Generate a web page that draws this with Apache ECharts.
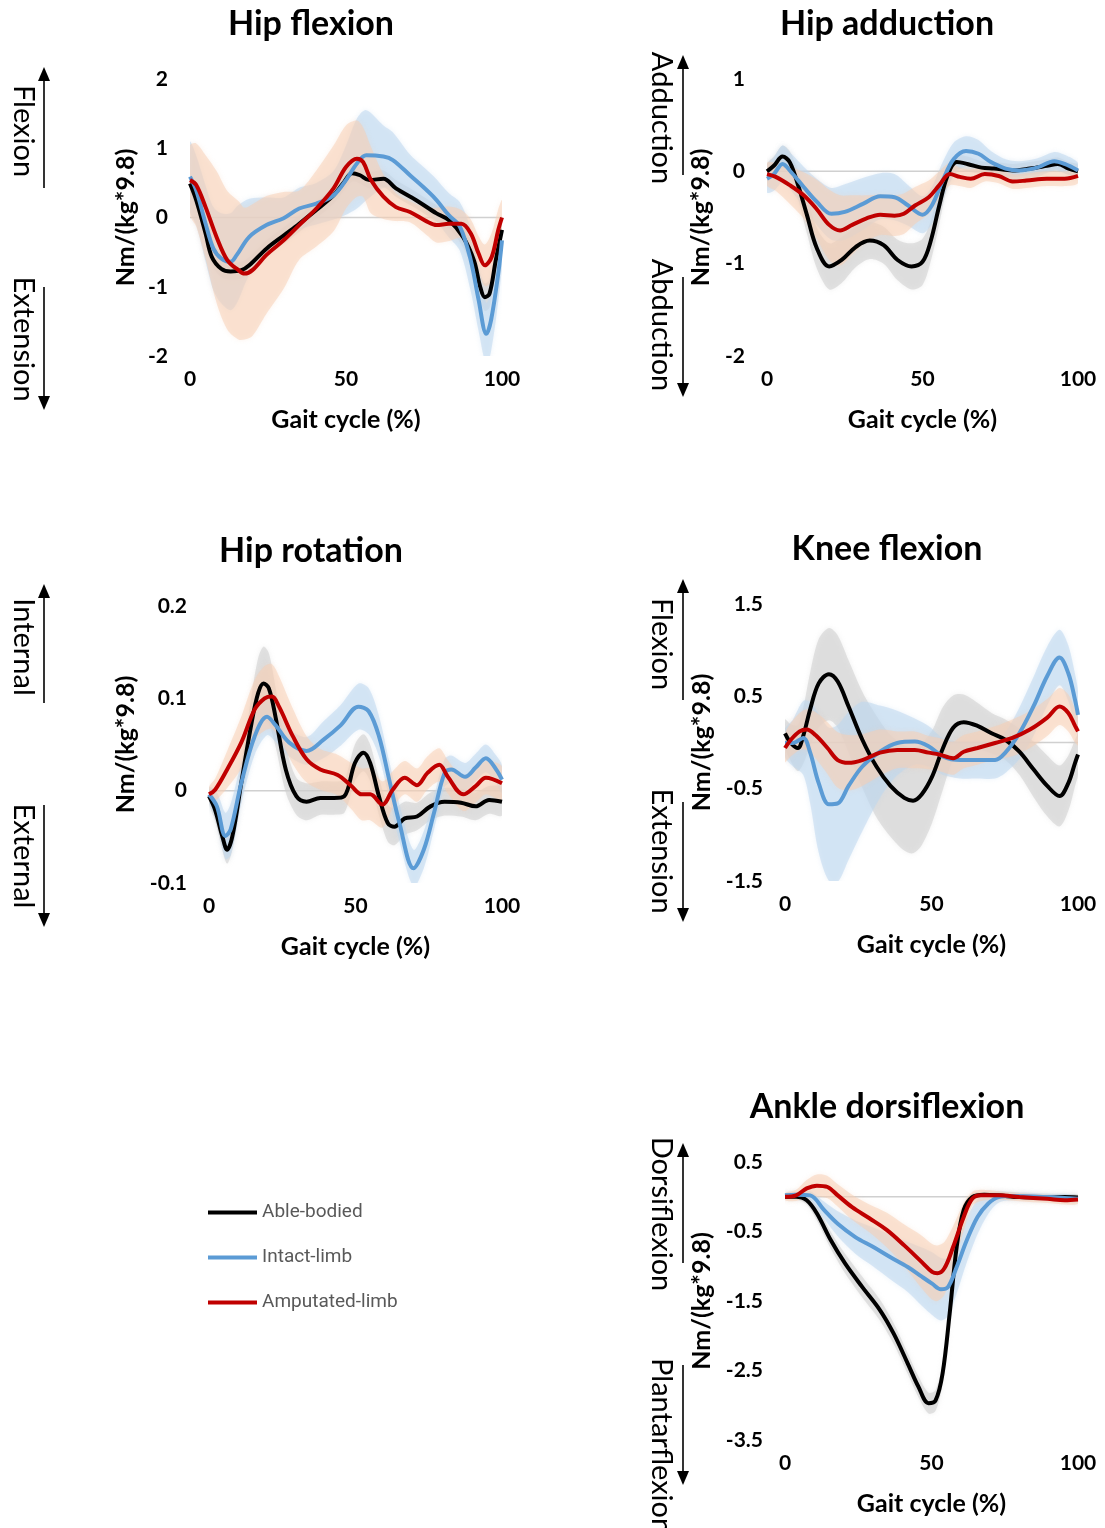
<!DOCTYPE html>
<html><head><meta charset="utf-8">
<script src="https://cdn.jsdelivr.net/npm/echarts@6/dist/echarts.min.js"></script>
<style>html,body{margin:0;padding:0;background:#fff}#c{width:1105px;height:1528px}</style>
</head><body><div id="c"></div>
<script>
// ===== Labels =====
const groupNames = ['Able-bodied', 'Intact-limb', 'Amputated-limb'];
const panelTitles = ['Hip flexion', 'Hip adduction', 'Hip rotation', 'Knee flexion', 'Ankle dorsiflexion'];
const xTicks = [0, 50, 100];
const zeroLineX = [0, 100];
const zeroLineY = [0, 0];

// ===== Hip flexion =====
const hipFlexAbleX = [0,2,5,7,10,13,16.5,19,24.5,30,35,40.5,46,49,52,54.5,57.5,62,66,72.5,79,83,87.5,91,93,94.5,96,98,100];
const hipFlexAbleMean = [0.49,0.25,-0.23,-0.57,-0.74,-0.78,-0.76,-0.69,-0.45,-0.26,-0.09,0.11,0.32,0.49,0.64,0.61,0.54,0.56,0.42,0.25,0.06,-0.04,-0.28,-0.62,-1.0,-1.15,-1.1,-0.62,-0.18];
const hipFlexAbleSD = [0.12,0.12,0.12,0.12,0.12,0.12,0.12,0.12,0.12,0.12,0.12,0.12,0.12,0.12,0.12,0.12,0.12,0.12,0.12,0.12,0.12,0.12,0.15,0.18,0.2,0.2,0.2,0.18,0.15];
const hipFlexIntactX = [0,2,5,7.5,10,13,15,19,24.5,30,35,40.5,46,50,53.5,56.5,62,65,70.5,78,83,86.5,90,92.5,95,96.5,98.8,100];
const hipFlexIntactMean = [0.59,0.39,-0.09,-0.45,-0.59,-0.64,-0.54,-0.28,-0.11,-0.01,0.13,0.20,0.32,0.54,0.78,0.90,0.88,0.83,0.61,0.30,0.03,-0.13,-0.62,-1.19,-1.68,-1.48,-0.81,-0.33];
const hipFlexIntactSD = [0.5,0.5,0.55,0.6,0.65,0.7,0.7,0.55,0.4,0.3,0.3,0.3,0.35,0.5,0.65,0.65,0.45,0.4,0.3,0.3,0.32,0.35,0.45,0.45,0.45,0.45,0.4,0.35];
const hipFlexAmpX = [0,2,5,8.5,12,15.5,17.5,20,24.5,30,35,40.5,46,50,53.5,55.5,58,62,66,70.5,76,79,83,87,90,92.5,94.5,96.7,98.8,100];
const hipFlexAmpMean = [0.54,0.47,0.15,-0.28,-0.62,-0.76,-0.81,-0.76,-0.54,-0.33,-0.11,0.13,0.42,0.73,0.85,0.80,0.54,0.30,0.15,0.08,-0.06,-0.11,-0.09,-0.09,-0.23,-0.52,-0.69,-0.57,-0.18,0.0];
const hipFlexAmpSD = [0.5,0.6,0.75,0.95,1.0,1.0,0.95,0.95,0.85,0.7,0.5,0.55,0.62,0.6,0.55,0.5,0.48,0.32,0.2,0.15,0.2,0.25,0.25,0.2,0.2,0.25,0.3,0.35,0.3,0.25];

// ===== Hip adduction =====
const hipAddAbleX = [0,2.2,5,7.3,10,12.9,16,20,24,28.5,33,37.5,42,46.5,50,52.6,55.4,58,61,64.4,69,73,79,84.5,90,93.5,97,100];
const hipAddAbleMean = [0.0,0.06,0.16,0.10,-0.15,-0.48,-0.83,-1.03,-0.96,-0.82,-0.75,-0.80,-0.96,-1.03,-0.98,-0.76,-0.37,-0.05,0.10,0.08,0.04,0.03,0.01,0.03,0.06,0.08,0.03,0.0];
const hipAddAbleSD = [0.08,0.1,0.12,0.12,0.15,0.2,0.22,0.25,0.25,0.22,0.2,0.2,0.22,0.25,0.25,0.22,0.2,0.12,0.08,0.08,0.07,0.07,0.07,0.07,0.07,0.07,0.07,0.07];
const hipAddIntactX = [0,2.2,5,7.8,11.8,16,20.7,25,31,36.4,41,45.4,50,53,56.5,60,64,68,72,76.7,81,86.8,92.4,95.7,100];
const hipAddIntactMean = [-0.08,-0.03,0.08,-0.01,-0.17,-0.33,-0.46,-0.44,-0.35,-0.27,-0.28,-0.37,-0.47,-0.37,-0.10,0.13,0.22,0.19,0.10,0.03,0.01,0.04,0.11,0.08,0.01];
const hipAddIntactSD = [0.15,0.18,0.2,0.2,0.22,0.25,0.28,0.3,0.28,0.25,0.25,0.22,0.2,0.2,0.2,0.18,0.16,0.15,0.12,0.1,0.1,0.1,0.1,0.1,0.08];
const hipAddAmpX = [0,2.8,7.3,11.8,16,20,23.5,27.4,32,36.4,41,44,47.6,52,55.4,58.8,62,65.5,70,74.5,79,83.4,90,95.7,100];
const hipAddAmpMean = [-0.03,-0.06,-0.15,-0.26,-0.41,-0.58,-0.64,-0.58,-0.51,-0.47,-0.48,-0.46,-0.37,-0.28,-0.15,-0.03,-0.06,-0.08,-0.03,-0.05,-0.11,-0.10,-0.08,-0.08,-0.05];
const hipAddAmpSD = [0.12,0.15,0.2,0.25,0.32,0.38,0.38,0.32,0.25,0.22,0.22,0.22,0.2,0.18,0.15,0.12,0.1,0.1,0.08,0.08,0.08,0.08,0.08,0.08,0.08];

// ===== Hip rotation =====
const hipRotAbleX = [0,2.1,4.5,6.2,8,11,14.5,16.8,18.6,20.4,22.7,26.2,29.8,33.3,38,42.7,46.2,49.8,52.7,55,58,61,63.3,66.8,71,75.6,80.4,86,91,95.6,100];
const hipRotAbleMean = [-0.006,-0.021,-0.049,-0.064,-0.049,0.008,0.073,0.106,0.116,0.111,0.080,0.023,-0.006,-0.012,-0.008,-0.008,-0.006,0.030,0.041,0.030,-0.006,-0.035,-0.039,-0.030,-0.028,-0.017,-0.012,-0.013,-0.017,-0.010,-0.012];
const hipRotAbleSD = [0.008,0.012,0.015,0.015,0.015,0.02,0.03,0.038,0.04,0.038,0.032,0.025,0.02,0.02,0.018,0.018,0.018,0.02,0.02,0.02,0.02,0.02,0.02,0.018,0.015,0.015,0.015,0.015,0.015,0.015,0.015];
const hipRotIntactX = [0,2.7,5.6,7.4,11,15.6,19.8,22.7,27.4,33.3,39,45,51,54.5,58,61.5,65,69.8,73.3,76.8,80.4,82.7,87.4,91,94.5,98,100];
const hipRotIntactMean = [-0.004,-0.017,-0.049,-0.042,0.008,0.059,0.080,0.071,0.052,0.043,0.055,0.071,0.091,0.086,0.059,0.012,-0.035,-0.084,-0.064,-0.024,0.019,0.023,0.015,0.025,0.035,0.023,0.012];
const hipRotIntactSD = [0.008,0.015,0.025,0.028,0.022,0.02,0.02,0.018,0.015,0.015,0.02,0.022,0.025,0.025,0.022,0.02,0.02,0.02,0.02,0.018,0.015,0.015,0.015,0.015,0.015,0.015,0.015];
const hipRotAmpX = [0,2.1,6.2,11,15.6,19,21.5,23.9,28.6,33.3,38,43.9,48.6,52.1,55,59.2,62.7,66.8,71,74.5,78.6,81.5,86.8,91,94.5,100];
const hipRotAmpMean = [-0.004,0.001,0.023,0.052,0.088,0.100,0.102,0.091,0.059,0.034,0.023,0.017,0.005,-0.004,-0.004,-0.015,0.001,0.014,0.006,0.019,0.028,0.015,-0.004,0.005,0.014,0.008];
const hipRotAmpSD = [0.008,0.012,0.02,0.028,0.032,0.035,0.035,0.033,0.03,0.025,0.022,0.022,0.025,0.028,0.028,0.025,0.02,0.018,0.018,0.018,0.018,0.018,0.018,0.018,0.018,0.018];

// ===== Knee flexion =====
const kneeAbleX = [0,2,4.4,6.2,8.6,11.5,15,18,21.7,26.4,31.2,36,40.7,43.7,46.7,50.2,53.8,57.4,61,65.7,70.5,75.2,80,84.8,89.5,93.7,96.7,99,100];
const kneeAbleMean = [0.10,-0.005,-0.06,0.07,0.36,0.64,0.74,0.66,0.39,0.03,-0.26,-0.47,-0.60,-0.63,-0.56,-0.37,-0.07,0.16,0.22,0.18,0.10,0.03,-0.10,-0.29,-0.47,-0.58,-0.44,-0.22,-0.13];
const kneeAbleSD = [0.15,0.2,0.25,0.3,0.4,0.48,0.5,0.5,0.5,0.52,0.55,0.55,0.57,0.57,0.55,0.5,0.45,0.35,0.3,0.25,0.22,0.22,0.25,0.3,0.33,0.33,0.3,0.25,0.22];
const kneeIntactX = [0,2.6,6.2,8.6,11.5,15,18,21.7,26.4,32.4,38.3,44.3,49,53.8,59.8,65.7,71.7,75.2,80,84.8,89.5,93.7,96.7,99,100];
const kneeIntactMean = [-0.005,-0.005,0.05,-0.11,-0.44,-0.67,-0.66,-0.47,-0.26,-0.10,-0.005,0.01,-0.04,-0.15,-0.19,-0.19,-0.19,-0.11,0.10,0.39,0.72,0.92,0.75,0.46,0.30];
const kneeIntactSD = [0.15,0.25,0.4,0.55,0.75,0.83,0.85,0.8,0.7,0.5,0.35,0.25,0.22,0.2,0.2,0.2,0.2,0.22,0.28,0.32,0.32,0.3,0.3,0.28,0.25];
const kneeAmpX = [0,2,5,7.4,10.4,14.5,18,21.7,26.4,32.4,38.3,44.3,49,52.6,57.4,61,65.7,71.7,77.6,83.6,89.5,93.7,96.7,99,100];
const kneeAmpMean = [-0.06,0.03,0.12,0.14,0.08,-0.06,-0.19,-0.22,-0.19,-0.11,-0.08,-0.08,-0.11,-0.13,-0.17,-0.10,-0.06,-0.005,0.05,0.14,0.27,0.39,0.32,0.18,0.12];
const kneeAmpSD = [0.15,0.18,0.2,0.22,0.25,0.28,0.3,0.3,0.28,0.25,0.2,0.2,0.18,0.18,0.18,0.18,0.18,0.18,0.2,0.2,0.2,0.2,0.2,0.18,0.15];

// ===== Ankle dorsiflexion =====
const ankleAbleX = [0,3.8,7.4,10.9,15.7,20.5,26.4,32.4,37.1,41.9,45.5,49,51.4,53.8,56.2,58.6,61,63.9,68,72.9,80,89.5,95.5,100];
const ankleAbleMean = [0.0,0.0,-0.05,-0.24,-0.63,-0.96,-1.30,-1.63,-1.97,-2.40,-2.73,-2.97,-2.93,-2.54,-1.68,-0.72,-0.19,-0.005,0.03,0.02,-0.005,-0.01,-0.005,-0.01];
const ankleAbleSD = [0.03,0.04,0.06,0.1,0.12,0.14,0.15,0.15,0.15,0.15,0.15,0.15,0.15,0.15,0.12,0.1,0.08,0.05,0.04,0.04,0.04,0.04,0.04,0.04];
const ankleIntactX = [0,3.8,8.6,13.3,18,24,30,36,41.9,46.7,50.2,53.2,55.6,58.6,62,65.7,69.3,72.9,77.6,89.5,100];
const ankleIntactMean = [0.02,0.03,0.02,-0.19,-0.39,-0.58,-0.72,-0.87,-1.01,-1.15,-1.25,-1.33,-1.30,-1.01,-0.63,-0.29,-0.10,-0.005,0.01,-0.005,-0.03];
const ankleIntactSD = [0.03,0.04,0.06,0.12,0.18,0.24,0.28,0.32,0.36,0.42,0.45,0.45,0.42,0.38,0.32,0.25,0.15,0.08,0.06,0.05,0.05];
const ankleAmpX = [0,3.8,7.4,10.9,14.5,18,22.9,28.8,34.8,40.7,46.7,50.2,52,54.4,57.4,61,63.9,66.9,72.9,80,89.5,95.5,100];
const ankleAmpMean = [0.0,0.02,0.12,0.16,0.14,0.02,-0.15,-0.31,-0.48,-0.70,-0.94,-1.08,-1.10,-1.03,-0.72,-0.29,-0.03,0.02,0.02,-0.005,-0.03,-0.05,-0.04];
const ankleAmpSD = [0.05,0.08,0.12,0.16,0.16,0.16,0.18,0.2,0.25,0.3,0.38,0.4,0.4,0.38,0.3,0.2,0.1,0.08,0.06,0.06,0.06,0.06,0.06];

// ===== Axis ranges =====
const yMins = [-2, -2, -0.1, -1.5, -3.5];
const yMaxs = [2, 1, 0.2, 1.5, 0.5];
const yIntervals = [1, 1, 0.1, 1, 1];

// ===== Build =====
const panels = [
  [[hipFlexAbleX,hipFlexAbleMean,hipFlexAbleSD],[hipFlexIntactX,hipFlexIntactMean,hipFlexIntactSD],[hipFlexAmpX,hipFlexAmpMean,hipFlexAmpSD]],
  [[hipAddAbleX,hipAddAbleMean,hipAddAbleSD],[hipAddIntactX,hipAddIntactMean,hipAddIntactSD],[hipAddAmpX,hipAddAmpMean,hipAddAmpSD]],
  [[hipRotAbleX,hipRotAbleMean,hipRotAbleSD],[hipRotIntactX,hipRotIntactMean,hipRotIntactSD],[hipRotAmpX,hipRotAmpMean,hipRotAmpSD]],
  [[kneeAbleX,kneeAbleMean,kneeAbleSD],[kneeIntactX,kneeIntactMean,kneeIntactSD],[kneeAmpX,kneeAmpMean,kneeAmpSD]],
  [[ankleAbleX,ankleAbleMean,ankleAbleSD],[ankleIntactX,ankleIntactMean,ankleIntactSD],[ankleAmpX,ankleAmpMean,ankleAmpSD]]
];

const lineColors = ['#000000', '#5b9bd5', '#c00000'];
const bandColors = ['rgba(205,205,205,0.55)', 'rgba(189,215,238,0.55)', 'rgba(248,206,178,0.5)'];

const grids = [
  {left:190, top:79, width:312, height:277},
  {left:767, top:79, width:311, height:277},
  {left:209, top:606, width:293, height:277},
  {left:785, top:604, width:293, height:277},
  {left:785, top:1162, width:293, height:278}
];
const yNameGaps = [52, 54, 71, 71, 71];

const FONT = 'Lato, "Open Sans", sans-serif';

const xAxes = grids.map((g, i) => ({
  gridIndex: i, type: 'value', min: 0, max: 100, interval: 50,
  axisLine: {show: false}, axisTick: {show: false}, splitLine: {show: false},
  axisLabel: {fontFamily: FONT, fontWeight: 'bold', fontSize: 21, color: '#000', margin: 13},
  name: 'Gait cycle (%)', nameLocation: 'middle', nameGap: 51,
  nameTextStyle: {fontFamily: FONT, fontWeight: 'bold', fontSize: 25, color: '#000'}
}));
const yAxes = grids.map((g, i) => ({
  gridIndex: i, type: 'value', min: yMins[i], max: yMaxs[i], interval: yIntervals[i],
  axisLine: {show: false}, axisTick: {show: false}, splitLine: {show: false},
  axisLabel: {fontFamily: FONT, fontWeight: 'bold', fontSize: 21, color: '#000', margin: 22,
    formatter: v => String(+v.toFixed(2))},
  name: 'Nm/(kg*9.8)', nameLocation: 'middle', nameRotate: 90, nameGap: yNameGaps[i],
  nameTextStyle: {fontFamily: FONT, fontWeight: 'bold', fontSize: 25, color: '#000'}
}));

const series = [];
panels.forEach((groups, gi) => {
  series.push({
    type: 'line', name: 'zero', xAxisIndex: gi, yAxisIndex: gi,
    data: zeroLineX.map((x, k) => [x, zeroLineY[k]]),
    symbol: 'none', silent: true, z: 0,
    lineStyle: {color: '#d0d0d0', width: 1.5}
  });
  groups.forEach((grp, k) => {
    const [xs, mean, sd] = grp;
    series.push({
      type: 'custom', name: groupNames[k] + ' SD', xAxisIndex: gi, yAxisIndex: gi,
      data: [[xs[0], mean[0]]], silent: true, z: 1 + k * 0.01, clip: true,
      renderItem: (params, api) => {
        const up = xs.map((x, i) => api.coord([x, mean[i] + sd[i]]));
        const lo = xs.map((x, i) => api.coord([x, mean[i] - sd[i]])).reverse();
        return {
          type: 'polygon',
          shape: {points: up.concat(lo), smooth: 0.3},
          style: {fill: bandColors[k], shadowBlur: 5, shadowColor: bandColors[k]}
        };
      }
    });
  });
  groups.forEach((grp, k) => {
    const [xs, mean] = grp;
    series.push({
      type: 'line', name: groupNames[k], xAxisIndex: gi, yAxisIndex: gi,
      data: xs.map((x, i) => [x, mean[i]]),
      smooth: 0.35, symbol: 'none', z: 3 + k * 0.01,
      lineStyle: {color: lineColors[k], width: 4},
      itemStyle: {color: lineColors[k]}
    });
  });
});

// ===== Text / arrows =====
const graphics = [];
const titlePos = [[311, 24], [887, 24], [311, 551], [887, 549], [887, 1107]];
panelTitles.forEach((t, i) => graphics.push({
  type: 'text', x: titlePos[i][0], y: titlePos[i][1], silent: true,
  style: {text: t, align: 'center', verticalAlign: 'middle', font: 'bold 34px ' + FONT, fill: '#000'}
}));
const dirLabels = [
  ['Flexion', 23, 131, 'center'], ['Extension', 23, 339, 'center'],
  ['Adduction', 661, 118, 'center'], ['Abduction', 661, 325, 'center'],
  ['Internal', 23, 647, 'center'], ['External', 23, 856, 'center'],
  ['Flexion', 661, 644, 'center'], ['Extension', 661, 851, 'center'],
  ['Dorsiflexion', 661, 1214, 'center'], ['Plantarflexion', 661, 1358, 'left']
];
dirLabels.forEach(d => graphics.push({
  type: 'text', x: d[1], y: d[2], rotation: -Math.PI / 2, silent: true,
  style: {text: d[0], align: d[3], verticalAlign: 'middle', font: '29px ' + FONT, fill: '#000'}
}));
const arrows = [
  [44, 67, 188, 287, 410], [683, 55, 175, 277, 397], [44, 584, 703, 805, 927],
  [683, 579, 700, 802, 922], [683, 1143, 1263, 1365, 1485]
];
arrows.forEach(a => {
  const [x, tipUp, endUp, startDn, tipDn] = a;
  graphics.push({type: 'line', silent: true, shape: {x1: x, y1: tipUp + 10, x2: x, y2: endUp}, style: {stroke: '#000', lineWidth: 1.6}});
  graphics.push({type: 'polygon', silent: true, shape: {points: [[x, tipUp], [x - 6, tipUp + 14], [x + 6, tipUp + 14]]}, style: {fill: '#000'}});
  graphics.push({type: 'line', silent: true, shape: {x1: x, y1: startDn, x2: x, y2: tipDn - 10}, style: {stroke: '#000', lineWidth: 1.6}});
  graphics.push({type: 'polygon', silent: true, shape: {points: [[x, tipDn], [x - 6, tipDn - 14], [x + 6, tipDn - 14]]}, style: {fill: '#000'}});
});

const chart = echarts.init(document.getElementById('c'), null, {renderer: 'canvas'});
chart.setOption({
  animation: false,
  backgroundColor: '#fff',
  grid: grids,
  xAxis: xAxes,
  yAxis: yAxes,
  legend: {
    data: groupNames, orient: 'vertical', left: 203, top: 1198,
    itemWidth: 49, itemHeight: 4, itemGap: 26, icon: 'rect', selectedMode: false,
    textStyle: {fontFamily: 'Roboto, sans-serif', fontSize: 19, color: '#595959'}
  },
  graphic: graphics,
  series: series
});
</script>
</body></html>
